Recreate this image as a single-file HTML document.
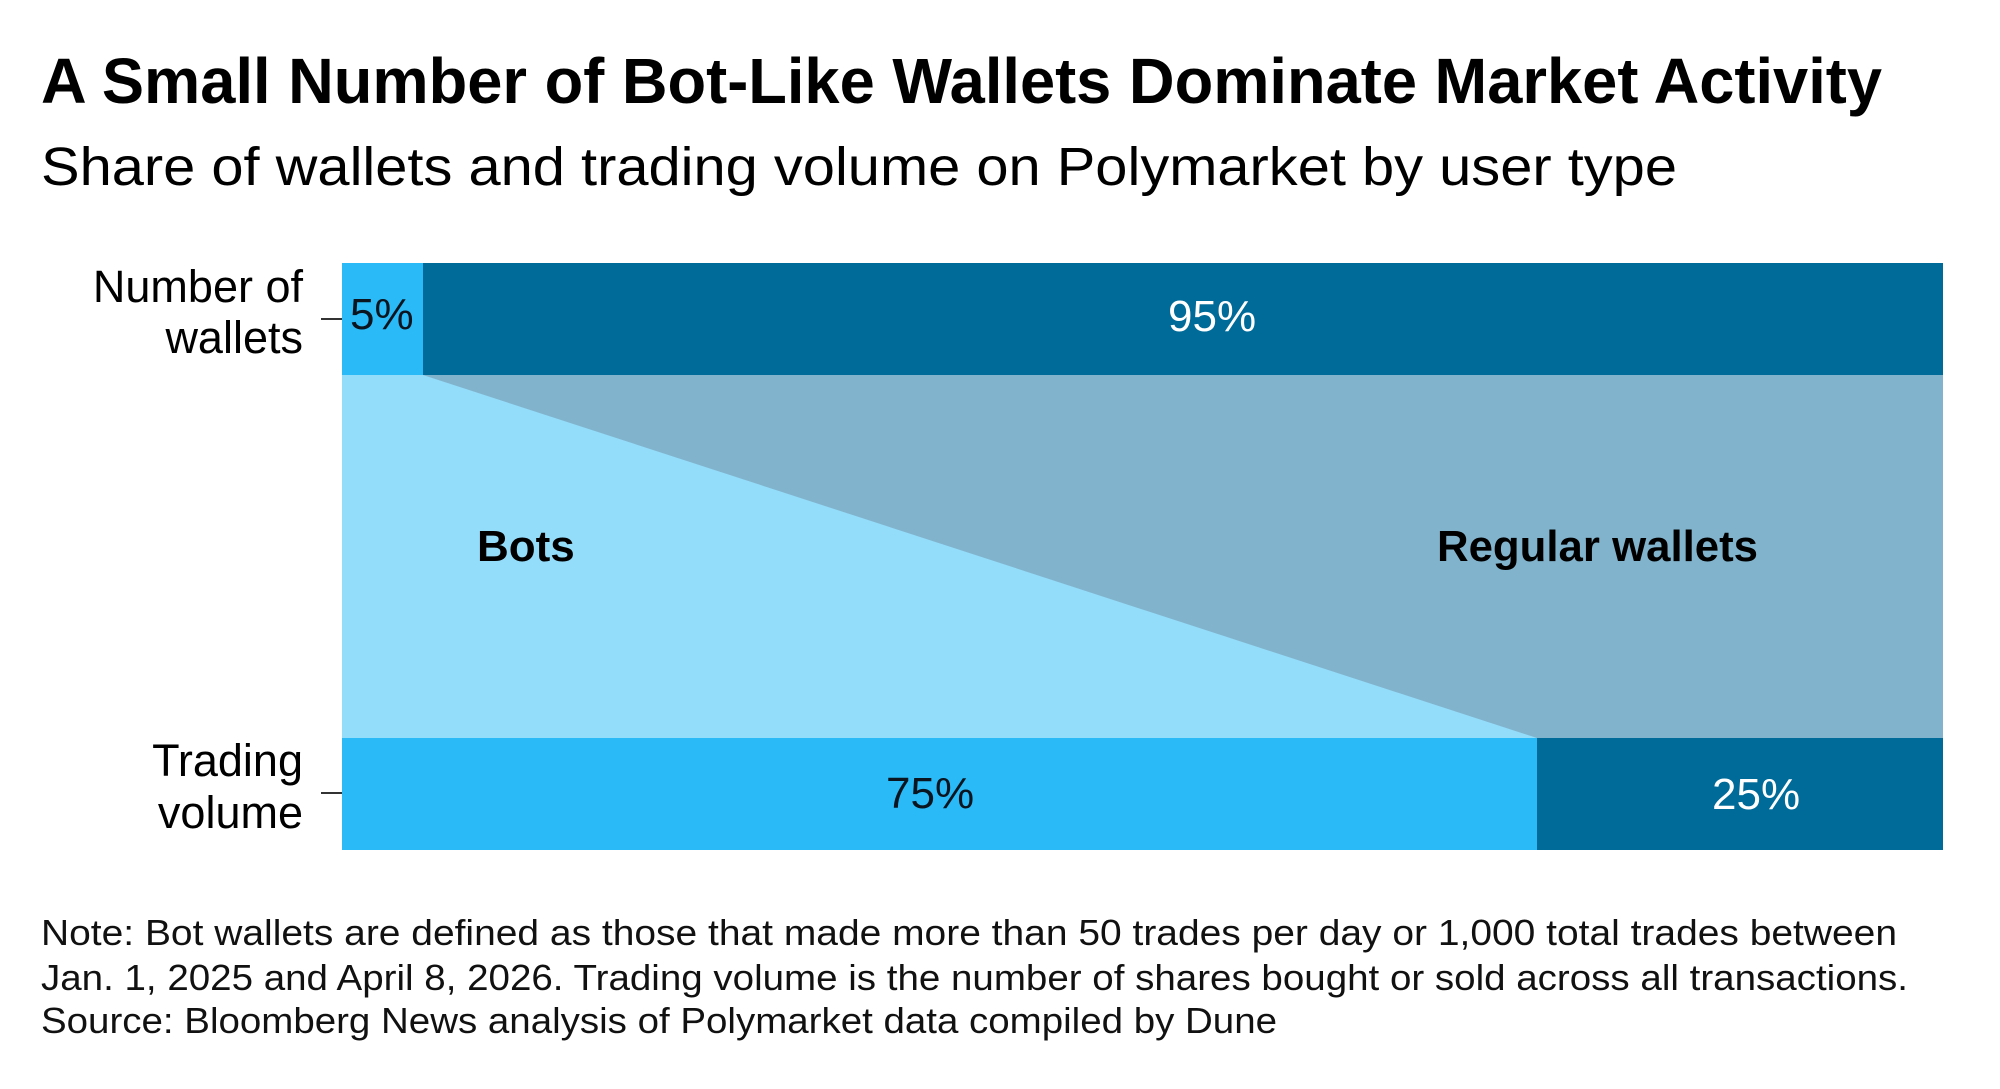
<!DOCTYPE html>
<html>
<head>
<meta charset="utf-8">
<style>
  html, body { margin: 0; padding: 0; background: #ffffff; }
  svg { display: block; }
  text { font-family: "Liberation Sans", Arial, sans-serif; }
</style>
</head>
<body>
<svg width="2000" height="1089" viewBox="0 0 2000 1089" xmlns="http://www.w3.org/2000/svg">
  <rect x="0" y="0" width="2000" height="1089" fill="#ffffff"/>

  <!-- Title & subtitle -->
  <text x="41" y="103" font-size="64" font-weight="bold" fill="#000000" textLength="1841" lengthAdjust="spacingAndGlyphs">A Small Number of Bot-Like Wallets Dominate Market Activity</text>
  <text x="41" y="185" font-size="54" fill="#000000" textLength="1636" lengthAdjust="spacingAndGlyphs">Share of wallets and trading volume on Polymarket by user type</text>

  <!-- Top bar: Number of wallets -->
  <rect x="342" y="263" width="81" height="112" fill="#29baf7"/>
  <rect x="423" y="263" width="1520" height="112" fill="#006a98"/>

  <!-- Middle band -->
  <rect x="342" y="375" width="1601" height="363" fill="#81b3cc"/>
  <polygon points="342,375 423,375 1537,738 342,738" fill="#93dcfa"/>

  <!-- Bottom bar: Trading volume -->
  <rect x="342" y="738" width="1195" height="112" fill="#29baf7"/>
  <rect x="1537" y="738" width="406" height="112" fill="#006a98"/>

  <!-- Axis labels -->
  <text x="303" y="302" font-size="45" fill="#000000" text-anchor="end">Number of</text>
  <text x="303" y="353" font-size="45" fill="#000000" text-anchor="end">wallets</text>
  <text x="303" y="776" font-size="45" fill="#000000" text-anchor="end">Trading</text>
  <text x="303" y="828" font-size="45" fill="#000000" text-anchor="end">volume</text>

  <!-- Ticks -->
  <line x1="321" y1="319" x2="342" y2="319" stroke="#333333" stroke-width="2"/>
  <line x1="321" y1="793" x2="342" y2="793" stroke="#333333" stroke-width="2"/>

  <!-- Value labels -->
  <text x="350" y="329" font-size="44" fill="#0a1520">5%</text>
  <text x="1168" y="331" font-size="44" fill="#ffffff">95%</text>
  <text x="886" y="808" font-size="44" fill="#0a1520">75%</text>
  <text x="1712" y="809" font-size="44" fill="#ffffff">25%</text>

  <!-- Category labels -->
  <text x="477" y="561" font-size="44" font-weight="bold" fill="#000000">Bots</text>
  <text x="1437" y="561" font-size="44" font-weight="bold" fill="#000000" textLength="321" lengthAdjust="spacingAndGlyphs">Regular wallets</text>

  <!-- Notes -->
  <text x="41" y="945" font-size="36" fill="#111111" textLength="1856" lengthAdjust="spacingAndGlyphs">Note: Bot wallets are defined as those that made more than 50 trades per day or 1,000 total trades between</text>
  <text x="41" y="990" font-size="36" fill="#111111" textLength="1867" lengthAdjust="spacingAndGlyphs">Jan. 1, 2025 and April 8, 2026. Trading volume is the number of shares bought or sold across all transactions.</text>
  <text x="41" y="1033" font-size="36" fill="#111111" textLength="1236" lengthAdjust="spacingAndGlyphs">Source: Bloomberg News analysis of Polymarket data compiled by Dune</text>
</svg>
</body>
</html>
